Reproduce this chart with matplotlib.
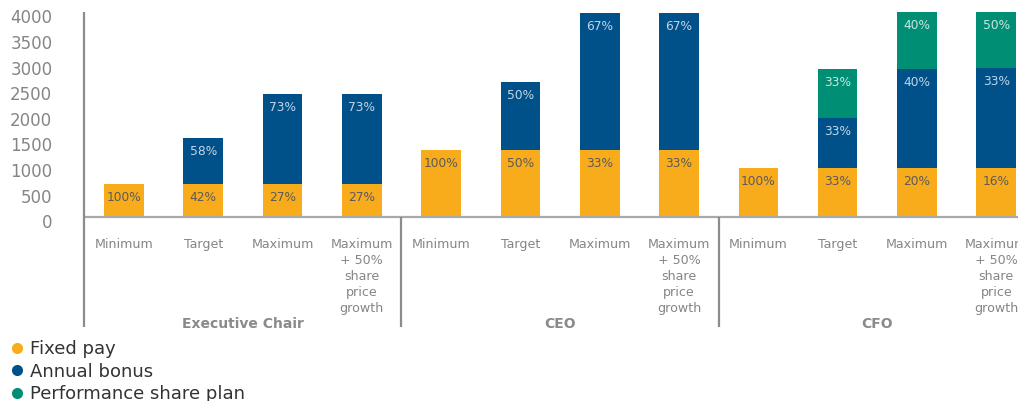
import matplotlib
matplotlib.use("Agg")
import matplotlib.pyplot as plt
from matplotlib.lines import Line2D
from matplotlib.transforms import ScaledTranslation, blended_transform_factory
import numpy as np

# Remuneration scenarios per executive
groups = ["Executive Chair", "CEO", "CFO"]
scenarios = ["Minimum", "Target", "Maximum", "Maximum\n+ 50%\nshare\nprice\ngrowth"]

fixed_pay = [645, 645, 645, 645, 1310, 1310, 1310, 1310, 960, 960, 960, 960]
annual_bonus = [0, 885, 1745, 1745, 0, 1320, 2680, 2680, 0, 960, 1920, 1950]
share_plan = [0, 0, 0, 0, 0, 0, 0, 0, 0, 960, 1920, 2960]

series_names = ["Fixed pay", "Annual bonus", "Performance share plan"]
series_colors = ["#F9AC1B", "#005189", "#008F74"]
label_colors = ["#5A5A5A", "#C3D4E6", "#C9E6DE"]

y_ticks = [0, 500, 1000, 1500, 2000, 2500, 3000, 3500, 4000]
y_max = 4000

plt.rcParams["font.family"] = ["DejaVu Sans"]

fig = plt.figure(figsize=(10.18, 4.01), dpi=100)
ax = fig.add_axes([0.0828, 0.4596, 0.9348, 0.5105])

n = len(groups) * len(scenarios)
x = np.arange(n)
series = [np.array(fixed_pay, float), np.array(annual_bonus, float), np.array(share_plan, float)]
totals = sum(series)

bottom = np.zeros(n)
for vals, color, lcolor in zip(series, series_colors, label_colors):
    ax.bar(x, vals, width=0.5, bottom=bottom, color=color, linewidth=0)
    for i in range(n):
        if vals[i] <= 0:
            continue
        top = min(bottom[i] + vals[i], y_max)
        pct = int(round(100 * vals[i] / totals[i]))
        ax.annotate(f"{pct}%", xy=(x[i], top), xytext=(0, -13.5),
                    textcoords="offset pixels", ha="center", va="center",
                    fontsize=8.8, color=lcolor)
    bottom = bottom + vals

ax.set_xlim(-0.5, n - 0.5)
ax.set_ylim(0, y_max)

for side in ["top", "right", "left", "bottom"]:
    ax.spines[side].set_visible(False)

ax.set_yticks(y_ticks)
ax.set_yticklabels([str(t) for t in y_ticks], fontsize=12, color="#858585")
ax.tick_params(axis="y", length=0, pad=23)
shift = ScaledTranslation(0, -0.045, fig.dpi_scale_trans)
for lbl in ax.get_yticklabels():
    lbl.set_transform(lbl.get_transform() + shift)

ax.set_xticks(x)
ax.set_xticklabels(scenarios * len(groups), fontsize=9.1, color="#858585",
                   linespacing=1.3, multialignment="center")
ax.tick_params(axis="x", length=0, pad=15)

trans = blended_transform_factory(ax.transData, ax.transAxes)
# baseline
ax.plot([-0.5, n - 0.5], [0, 0], transform=trans, color="#A9A9A9", lw=1.6,
        clip_on=False, solid_capstyle="butt")
# left axis line and group separators
ax.plot([-0.5, -0.5], [-0.54, 1.0], transform=trans, color="#8C8C8C", lw=1.6,
        clip_on=False, solid_capstyle="butt")
k = len(scenarios)
for g in range(1, len(groups)):
    xs = g * k - 0.5
    ax.plot([xs, xs], [-0.54, 0], transform=trans, color="#8C8C8C", lw=1.6,
            clip_on=False, solid_capstyle="butt")
for g, name in enumerate(groups):
    xc = g * k + (k - 1) / 2
    ax.text(xc, -0.526, name, transform=trans, ha="center", va="center",
            fontsize=10, fontweight="bold", color="#8A8A8A")

handles = [Line2D([0], [0], marker="o", linestyle="none", markersize=8,
                  markerfacecolor=c, markeredgewidth=0) for c in series_colors]
fig.legend(handles, series_names, loc="upper left", bbox_to_anchor=(0.006, 0.165),
           frameon=False, fontsize=13, labelcolor="#333333", handlelength=0.6,
           handletextpad=0.4, labelspacing=0.24, borderpad=0, borderaxespad=0.3)

fig.savefig("out.png", dpi=100)
